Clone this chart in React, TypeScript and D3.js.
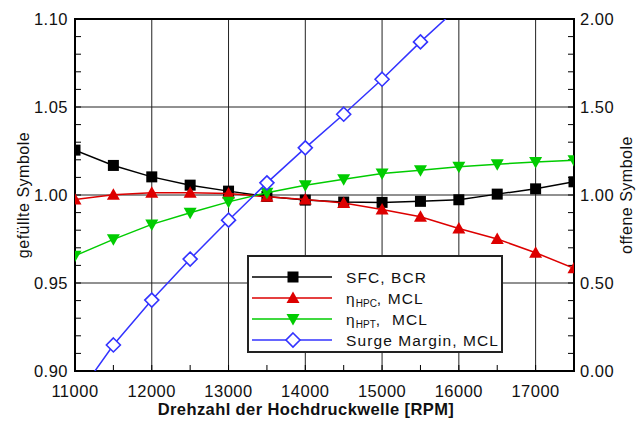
import React, { useEffect, useRef } from 'react';
import * as d3 from 'd3';

// Drehzahl der Hochdruckwelle [RPM]
const rpm = [11000, 11500, 12000, 12500, 13000, 13500, 14000, 14500, 15000, 15500, 16000, 16500, 17000, 17500];
// gefüllte Symbole (linke Achse)
const sfcBCR = [1.0255, 1.0168, 1.0103, 1.0056, 1.0022, 0.9992, 0.9971, 0.9960, 0.9958, 0.9964, 0.9973, 1.0005, 1.0035, 1.0075];
const etaHPC = [0.9975, 1.0001, 1.0013, 1.0013, 1.0009, 0.9990, 0.9975, 0.9954, 0.9918, 0.9876, 0.9810, 0.9750, 0.9672, 0.9584];
const etaHPT = [0.9655, 0.9748, 0.9833, 0.9899, 0.9961, 1.0013, 1.0056, 1.0090, 1.0122, 1.0141, 1.0160, 1.0175, 1.0188, 1.0198];
// offene Symbole (rechte Achse)
const surgeRpm = [11000, 11500, 12000, 12500, 13000, 13500, 14000, 14500, 15000, 15500, 16000];
const surgeMargin = [-0.16, 0.148, 0.403, 0.636, 0.857, 1.069, 1.268, 1.459, 1.658, 1.870, 2.07];

const xTicks = [11000, 12000, 13000, 14000, 15000, 16000, 17000];
const yLeftTicks = [0.90, 0.95, 1.00, 1.05, 1.10];
const yRightTicks = [0.0, 0.5, 1.0, 1.5, 2.0];

export default function App() {
  const ref = useRef<SVGSVGElement>(null);

  useEffect(() => {
    const svg = d3.select(ref.current);
    svg.selectAll('*').remove();

    const margin = { top: 19, right: 70, bottom: 57, left: 75 };
    const width = 644 - margin.left - margin.right;
    const height = 428 - margin.top - margin.bottom;
    const font = 'Arial, "Liberation Sans", sans-serif';

    const x = d3.scaleLinear().domain([11000, 17500]).range([0, width]);
    const yL = d3.scaleLinear().domain([0.9, 1.1]).range([height, 0]);
    const yR = d3.scaleLinear().domain([0, 2]).range([height, 0]);

    const g = svg.append('g').attr('transform', 'translate(' + margin.left + ',' + margin.top + ')');

    svg.append('defs').append('clipPath').attr('id', 'plotclip')
      .append('rect').attr('width', width).attr('height', height)
      .attr('transform', 'translate(' + margin.left + ',' + margin.top + ')');

    // grid
    g.append('g').selectAll('line').data(xTicks.slice(1)).enter().append('line')
      .attr('x1', d => x(d)).attr('x2', d => x(d)).attr('y1', 0).attr('y2', height)
      .attr('stroke', '#222').attr('stroke-width', 1);
    g.append('g').selectAll('line').data([0.95, 1.0, 1.05]).enter().append('line')
      .attr('x1', 0).attr('x2', width).attr('y1', d => yL(d)).attr('y2', d => yL(d))
      .attr('stroke', '#222').attr('stroke-width', 1);

    // minor ticks, inward
    g.append('g').selectAll('line').data(d3.range(0.91, 1.1, 0.01)).enter().append('line')
      .attr('x1', 0).attr('x2', 6).attr('y1', d => yL(d)).attr('y2', d => yL(d))
      .attr('stroke', '#000').attr('stroke-width', 1);
    g.append('g').selectAll('line').data(d3.range(0.1, 2.0, 0.1)).enter().append('line')
      .attr('x1', width - 6).attr('x2', width).attr('y1', d => yR(d)).attr('y2', d => yR(d))
      .attr('stroke', '#000').attr('stroke-width', 1);
    g.append('g').selectAll('line').data(d3.range(11500, 17500, 500)).enter().append('line')
      .attr('x1', d => x(d)).attr('x2', d => x(d)).attr('y1', height - 6).attr('y2', height)
      .attr('stroke', '#000').attr('stroke-width', 1);

    // frame
    g.append('rect').attr('width', width).attr('height', height)
      .attr('fill', 'none').attr('stroke', '#000').attr('stroke-width', 2);

    // tick labels
    const lab = { 'font-family': font, 'font-size': '16.5px', 'letter-spacing': '0.5px', fill: '#111' };
    const tl = g.append('g').selectAll('text').data(yLeftTicks).enter().append('text')
      .attr('x', -7).attr('y', d => yL(d)).attr('dy', '0.36em').attr('text-anchor', 'end')
      .text(d => d3.format('.2f')(d));
    const tr = g.append('g').selectAll('text').data(yRightTicks).enter().append('text')
      .attr('x', width + 6).attr('y', d => yR(d)).attr('dy', '0.36em').attr('text-anchor', 'start')
      .text(d => d3.format('.2f')(d));
    const tb = g.append('g').selectAll('text').data(xTicks).enter().append('text')
      .attr('x', d => x(d)).attr('y', height + 26).attr('text-anchor', 'middle')
      .text(d => d);
    [tl, tr, tb].forEach(s => Object.entries(lab).forEach(([k, v]) => s.attr(k, v)));

    // axis titles
    svg.append('text')
      .attr('x', 306).attr('y', 415).attr('text-anchor', 'middle')
      .attr('font-family', font).attr('font-size', '16.5px').attr('font-weight', 'bold')
      .attr('letter-spacing', '0.4px').attr('fill', '#111')
      .text('Drehzahl der Hochdruckwelle [RPM]');
    svg.append('text')
      .attr('transform', 'translate(28.5,' + (margin.top + height / 2) + ') rotate(-90)')
      .attr('text-anchor', 'middle').attr('font-family', font).attr('font-size', '16px')
      .attr('letter-spacing', '0.5px').attr('fill', '#111').text('gefüllte Symbole');
    svg.append('text')
      .attr('transform', 'translate(632,' + (margin.top + height / 2) + ') rotate(-90)')
      .attr('text-anchor', 'middle').attr('font-family', font).attr('font-size', '16px')
      .attr('letter-spacing', '0.5px').attr('fill', '#111').text('offene Symbole');

    // series
    const series = [
      { xs: rpm, ys: sfcBCR, y: yL, color: '#000000', shape: 'square' },
      { xs: rpm, ys: etaHPC, y: yL, color: '#dd0000', shape: 'up' },
      { xs: rpm, ys: etaHPT, y: yL, color: '#00cc00', shape: 'down' },
      { xs: surgeRpm, ys: surgeMargin, y: yR, color: '#3333ff', shape: 'diamond' },
    ];

    const marker = (sel: any, shape: string, color: string) => {
      if (shape === 'square') {
        sel.append('rect').attr('x', -5.5).attr('y', -5.5).attr('width', 11).attr('height', 11).attr('fill', color);
      } else if (shape === 'up') {
        sel.append('path').attr('d', 'M0,-6.5L6.5,5L-6.5,5Z').attr('fill', color);
      } else if (shape === 'down') {
        sel.append('path').attr('d', 'M0,6.5L6.5,-5L-6.5,-5Z').attr('fill', color);
      } else {
        sel.append('path').attr('d', 'M0,-7L7,0L0,7L-7,0Z').attr('fill', 'white')
          .attr('stroke', color).attr('stroke-width', 1.6);
      }
    };

    const plot = svg.append('g').attr('clip-path', 'url(#plotclip)')
      .append('g').attr('transform', 'translate(' + margin.left + ',' + margin.top + ')');

    series.forEach(s => {
      const pts = s.xs.map((v, i) => [v, s.ys[i]] as [number, number]);
      const line = d3.line<[number, number]>().x(d => x(d[0])).y(d => s.y(d[1]));
      plot.append('path').attr('d', line(pts)).attr('fill', 'none')
        .attr('stroke', s.color).attr('stroke-width', 1.5);
      plot.append('g').selectAll('g').data(pts).enter().append('g')
        .attr('transform', d => 'translate(' + x(d[0]) + ',' + s.y(d[1]) + ')')
        .each(function () { marker(d3.select(this), s.shape, s.color); });
    });

    // legend
    const lg = svg.append('g').attr('transform', 'translate(248,256)');
    lg.append('rect').attr('width', 254).attr('height', 96)
      .attr('fill', 'white').attr('stroke', '#222').attr('stroke-width', 2);
    const rows = lg.selectAll('g.row').data(series).enter().append('g')
      .attr('transform', (d, i) => 'translate(0,' + (21 + i * 21) + ')');
    rows.append('line').attr('x1', 4).attr('x2', 84).attr('y1', 0).attr('y2', 0)
      .attr('stroke', d => d.color).attr('stroke-width', 1.5);
    rows.each(function (d) {
      const r = d3.select(this).append('g').attr('transform', 'translate(45,0)');
      marker(r, d.shape, d.color);
    });
    const txt = rows.append('text').attr('x', 98).attr('y', 0).attr('dy', '0.36em')
      .attr('font-family', font).attr('font-size', '15.5px').attr('letter-spacing', '1.1px').attr('fill', '#111');
    txt.each(function (d, i) {
      const t = d3.select(this);
      if (i === 0) t.text('SFC, BCR');
      else if (i === 3) t.text('Surge Margin, MCL');
      else {
        t.append('tspan').text('η');
        t.append('tspan').attr('font-size', '10px').attr('letter-spacing', '0px').attr('dy', '3').text(i === 1 ? 'HPC' : 'HPT');
        t.append('tspan').attr('dy', '-3').attr('xml:space', 'preserve').text(i === 1 ? ', MCL' : ',  MCL');
      }
    });
  }, []);

  return (
    <svg ref={ref} width={644} height={428} style={{ position: 'absolute', left: 0, top: 0, background: 'white' }} />
  );
}
